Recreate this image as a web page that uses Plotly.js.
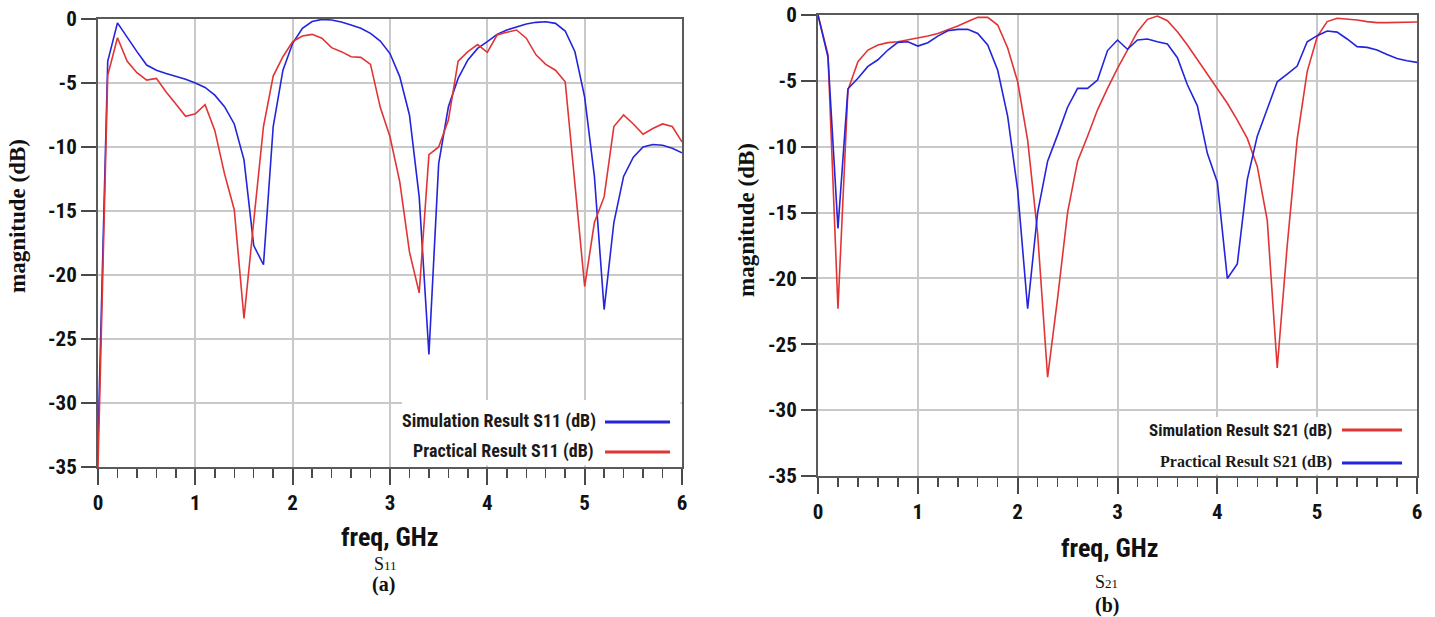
<!DOCTYPE html>
<html>
<head>
<meta charset="utf-8">
<script src="https://cdn.plot.ly/plotly-3.0.1.min.js"></script>
<style>
html,body{margin:0;padding:0;background:#ffffff;}
#chart{width:1435px;height:617px;}
</style>
</head>
<body>
<div id="chart"></div>
<script>
// ---------- data ----------
const freq = [0,0.1,0.2,0.3,0.4,0.5,0.6,0.7,0.8,0.9,1.0,1.1,1.2,1.3,1.4,1.5,1.6,1.7,1.8,1.9,
  2.0,2.1,2.2,2.3,2.4,2.5,2.6,2.7,2.8,2.9,3.0,3.1,3.2,3.3,3.4,3.5,3.6,3.7,3.8,3.9,
  4.0,4.1,4.2,4.3,4.4,4.5,4.6,4.7,4.8,4.9,5.0,5.1,5.2,5.3,5.4,5.5,5.6,5.7,5.8,5.9,6.0];

// (a) S11
const s11Simulation = [-33,-3.3,-0.3,-1.45,-2.55,-3.6,-4.0,-4.25,-4.45,-4.7,
  -5.0,-5.35,-5.95,-6.85,-8.2,-11.0,-17.7,-19.2,-8.4,-4.0,
  -1.9,-0.73,-0.2,-0.03,-0.08,-0.23,-0.47,-0.73,-1.12,-1.72,
  -2.7,-4.5,-7.5,-13.9,-26.2,-11.3,-6.86,-4.64,-3.2,-2.3,
  -1.77,-1.2,-0.86,-0.6,-0.39,-0.26,-0.21,-0.34,-0.94,-2.56,
  -6.1,-12.3,-22.7,-15.9,-12.3,-10.8,-10.0,-9.8,-9.86,-10.1,-10.46];
const s11Practical = [-35,-4.4,-1.46,-3.3,-4.2,-4.77,-4.64,-5.7,-6.65,-7.6,
  -7.4,-6.7,-8.7,-12.1,-14.9,-23.4,-15.8,-8.4,-4.46,-2.95,
  -1.77,-1.33,-1.2,-1.5,-2.24,-2.55,-2.95,-3.0,-3.55,-6.9,
  -9.2,-12.7,-18.2,-21.4,-10.6,-10.0,-7.9,-3.3,-2.55,-2.0,
  -2.6,-1.25,-1.04,-0.86,-1.5,-2.8,-3.55,-4.0,-4.9,-12.9,
  -20.9,-15.9,-13.9,-8.4,-7.5,-8.2,-9.0,-8.55,-8.2,-8.4,-9.6];

// (b) S21
const s21Simulation = [0,-3.0,-22.3,-5.7,-3.55,-2.66,-2.28,-2.1,-2.03,-1.9,
  -1.77,-1.6,-1.4,-1.14,-0.84,-0.5,-0.18,-0.18,-0.76,-2.5,
  -5.07,-9.5,-16.6,-27.5,-21.5,-15.0,-11.1,-9.2,-7.2,-5.57,
  -4.05,-2.66,-1.27,-0.33,-0.08,-0.43,-1.27,-2.28,-3.37,-4.48,
  -5.57,-6.7,-7.98,-9.37,-11.5,-15.6,-26.8,-17.5,-9.4,-4.3,
  -1.65,-0.5,-0.25,-0.3,-0.38,-0.5,-0.58,-0.58,-0.56,-0.56,-0.53];
const s21Practical = [0,-3.2,-16.2,-5.6,-4.8,-3.9,-3.4,-2.66,-2.08,-2.03,
  -2.36,-2.1,-1.6,-1.2,-1.09,-1.09,-1.4,-2.28,-4.2,-7.7,
  -13.3,-22.3,-15.0,-11.1,-9.1,-7.0,-5.57,-5.57,-4.94,-2.7,
  -1.9,-2.6,-1.9,-1.82,-2.03,-2.2,-3.24,-5.3,-6.9,-10.5,
  -12.7,-20.0,-18.9,-12.5,-9.2,-7.2,-5.07,-4.48,-3.88,-2.03,
  -1.57,-1.22,-1.3,-1.82,-2.4,-2.46,-2.66,-3.0,-3.3,-3.47,-3.6];

const xTickVals = [0,1,2,3,4,5,6];
const xTickText = ['0','1','2','3','4','5','6'];
const yTickVals = [-35,-30,-25,-20,-15,-10,-5,0];
const yTickText = ['-35','-30','-25','-20','-15','-10','-5','0'];

const nameS11Sim = 'Simulation Result S11 (dB)';
const nameS11Prac = 'Practical Result S11 (dB)';
const nameS21Sim = 'Simulation Result S21 (dB)';
const nameS21Prac = 'Practical Result S21 (dB)';
const xTitle = 'freq, GHz';
const yTitle = 'magnitude (dB)';
const captionA = 'S<span style="font-size:13px">11</span>';
const captionB = 'S<span style="font-size:13px">21</span>';
const letterA = '(a)';
const letterB = '(b)';

// ---------- style ----------
const W = 1435, H = 617;
const BLUE = '#2424dc', RED = '#e23434';
const narrow = 'Liberation Sans Narrow, Roboto Condensed, Arial Narrow, Liberation Sans, Arial, sans-serif';
const serif = 'Liberation Serif, Times New Roman, serif';
const px = v => v / W;
const py = v => 1 - v / H;

function xAxis(l, r, anchor) {
  return {
    domain: [px(l), px(r)], anchor: anchor, range: [0, 6],
    tickmode: 'array', tickvals: xTickVals, ticktext: xTickText,
    ticks: 'outside', ticklen: 16, tickwidth: 2, tickcolor: '#4a4a4a',
    minor: {tickmode: 'linear', tick0: 0, dtick: 0.2, ticks: 'outside', ticklen: 9, tickwidth: 1.5, tickcolor: '#4a4a4a', showgrid: false},
    showline: true, linecolor: '#5a5a5a', linewidth: 2, mirror: true,
    showgrid: true, gridcolor: '#c9c9c9', gridwidth: 2, zeroline: false,
    tickfont: {family: narrow, size: 21, color: '#111', weight: 'bold'},
    automargin: false, fixedrange: true
  };
}
function yAxis(b, t, anchor) {
  return {
    domain: [py(b), py(t)], anchor: anchor, range: [-35, 0],
    tickmode: 'array', tickvals: yTickVals, ticktext: yTickText,
    ticks: 'outside', ticklen: 15, tickwidth: 2, tickcolor: '#4a4a4a',
    showline: true, linecolor: '#5a5a5a', linewidth: 2, mirror: true,
    showgrid: true, gridcolor: '#c9c9c9', gridwidth: 2, zeroline: false,
    tickfont: {family: narrow, size: 21, color: '#111', weight: 'bold'},
    automargin: false, fixedrange: true
  };
}

const traces = [
  {x: freq, y: s11Simulation, xaxis: 'x', yaxis: 'y', mode: 'lines', name: nameS11Sim, line: {color: BLUE, width: 1.6}, showlegend: false},
  {x: freq, y: s11Practical, xaxis: 'x', yaxis: 'y', mode: 'lines', name: nameS11Prac, line: {color: RED, width: 1.6}, showlegend: false},
  {x: freq, y: s21Simulation, xaxis: 'x2', yaxis: 'y2', mode: 'lines', name: nameS21Sim, line: {color: RED, width: 1.6}, showlegend: false},
  {x: freq, y: s21Practical, xaxis: 'x2', yaxis: 'y2', mode: 'lines', name: nameS21Prac, line: {color: BLUE, width: 1.6}, showlegend: false}
];

function ann(text, x, y, font, extra) {
  return Object.assign({text: text, x: px(x), y: py(y), xref: 'paper', yref: 'paper',
    showarrow: false, xanchor: 'center', yanchor: 'middle', font: font}, extra || {});
}
const legFont = {family: narrow, size: 18, color: '#1a1a1a', weight: 'bold'};
const legFontR = {family: narrow, size: 17, color: '#1a1a1a', weight: 'bold'};
const legSerif = {family: serif, size: 16, color: '#1a1a1a', weight: 'bold'};
const axTitleFont = {family: narrow, size: 26, color: '#111', weight: 'bold'};
const yTitleFont = {family: serif, size: 23, color: '#111', weight: 'bold'};

const annotations = [
  ann(yTitle, 18, 216, yTitleFont, {textangle: -90}),
  ann(yTitle, 746, 220, yTitleFont, {textangle: -90}),
  ann(xTitle, 390, 537, axTitleFont),
  ann(xTitle, 1110, 548, axTitleFont),
  ann(captionA, 385, 564, {family: serif, size: 18, color: '#111'}),
  ann(letterA, 383, 584, {family: serif, size: 20, color: '#111', weight: 'bold'}),
  ann(captionB, 1106, 582, {family: serif, size: 18, color: '#111'}),
  ann(letterB, 1107, 605, {family: serif, size: 20, color: '#111', weight: 'bold'}),
  ann(nameS11Sim, 598, 421, legFont, {xanchor: 'right'}),
  ann(nameS11Prac, 596, 451, legFont, {xanchor: 'right'}),
  ann(nameS21Sim, 1334, 430, legFontR, {xanchor: 'right'}),
  ann(nameS21Prac, 1334, 462, legSerif, {xanchor: 'right'})
];

function seg(x0, x1, y, color) {
  return {type: 'line', xref: 'paper', yref: 'paper', x0: px(x0), x1: px(x1), y0: py(y), y1: py(y),
    line: {color: color, width: 3}, layer: 'above'};
}
const shapes = [
  {type: 'rect', xref: 'paper', yref: 'paper', x0: px(402), x1: px(680.5), y0: py(465.5), y1: py(400),
    fillcolor: '#ffffff', line: {width: 0}, layer: 'above'},
  {type: 'rect', xref: 'paper', yref: 'paper', x0: px(1145), x1: px(1415.5), y0: py(474.5), y1: py(417),
    fillcolor: '#ffffff', line: {width: 0}, layer: 'above'},
  seg(605, 670, 422, BLUE),
  seg(605, 670, 452, RED),
  seg(1342, 1402, 430, RED),
  seg(1342, 1402, 463, BLUE)
];

const layout = {
  width: W, height: H,
  margin: {l: 0, r: 0, t: 0, b: 0},
  paper_bgcolor: '#ffffff', plot_bgcolor: '#ffffff',
  showlegend: false,
  xaxis: xAxis(98, 682, 'y'),
  yaxis: yAxis(467, 19, 'x'),
  xaxis2: xAxis(818, 1417, 'y2'),
  yaxis2: yAxis(476, 15, 'x2'),
  annotations: annotations,
  shapes: shapes
};

Plotly.newPlot('chart', traces, layout, {displayModeBar: false, staticPlot: true});
</script>
</body>
</html>
